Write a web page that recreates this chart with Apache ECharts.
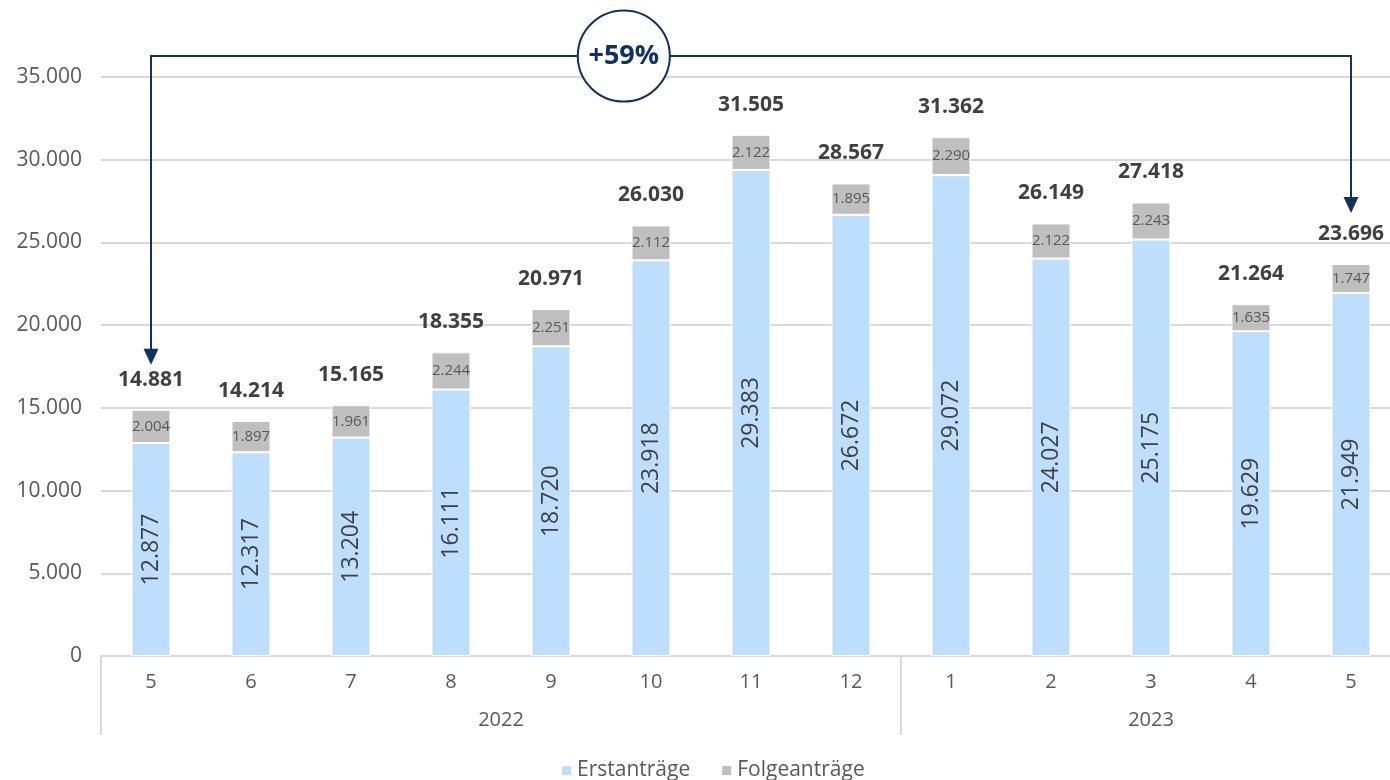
<!DOCTYPE html>
<html>
<head>
<meta charset="utf-8">
<script src="https://cdn.jsdelivr.net/npm/echarts@6/dist/echarts.min.js"></script>
<style>
  html, body { margin: 0; padding: 0; background: #fff; }
  #chart { width: 1390px; height: 780px; }
</style>
</head>
<body>
<div id="chart"></div>
<script>
// Monate (Mai 2022 bis Mai 2023)
const months = ["5", "6", "7", "8", "9", "10", "11", "12", "1", "2", "3", "4", "5"];
const years = ["2022", "2022", "2022", "2022", "2022", "2022", "2022", "2022", "2023", "2023", "2023", "2023", "2023"];
const erstantraege = [12877, 12317, 13204, 16111, 18720, 23918, 29383, 26672, 29072, 24027, 25175, 19629, 21949];
const folgeantraege = [2004, 1897, 1961, 2244, 2251, 2112, 2122, 1895, 2290, 2122, 2243, 1635, 1747];
const yTicks = [0, 5000, 10000, 15000, 20000, 25000, 30000, 35000];

const FONT = "Open Sans";
const NAVY = "#0f3262";

// Summe je Monat
const totals = erstantraege.map((v, i) => v + folgeantraege[i]);

// deutsches Zahlenformat 12.877
const fmt = (v) => String(v).replace(/\B(?=(\d{3})+(?!\d))/g, ".");

// Jahresgruppen: Grenzen und Mitte
const groupEdges = [0];
const groupCenters = [];
const groupNames = [];
let start = 0;
for (let i = 1; i <= years.length; i++) {
  if (i === years.length || years[i] !== years[start]) {
    groupEdges.push(i);
    groupCenters.push((start + i) / 2);
    groupNames.push(years[start]);
    start = i;
  }
}

const chart = echarts.init(document.getElementById("chart"));

const option = {
  animation: false,
  textStyle: { fontFamily: FONT },
  grid: { left: 101, top: 77, width: 1300, height: 579, outerBoundsMode: "none", containLabel: false },
  legend: {
    left: 555,
    top: 755,
    itemWidth: 11,
    itemHeight: 11,
    itemGap: 30,
    icon: "rect",
    data: ["Erstanträge", "Folgeanträge"],
    textStyle: { fontFamily: FONT, fontSize: 21, color: "#595959" },
  },
  xAxis: [
    {
      type: "category",
      data: months,
      position: "bottom",
      axisLine: { lineStyle: { color: "#d9d9d9", width: 2 } },
      axisTick: { show: false },
      axisLabel: { margin: 16, fontSize: 20, color: "#595959", fontFamily: FONT },
    },
    {
      // Jahresebene
      type: "value",
      min: 0,
      max: months.length,
      position: "bottom",
      splitLine: { show: false },
      axisLine: { show: false },
      axisTick: {
        show: true,
        customValues: groupEdges,
        length: 79,
        lineStyle: { color: "#d9d9d9", width: 2 },
      },
      axisLabel: {
        customValues: groupCenters,
        margin: 54,
        fontSize: 20,
        color: "#595959",
        fontFamily: FONT,
        formatter: (v) => groupNames[groupCenters.indexOf(v)] || "",
      },
    },
  ],
  yAxis: {
    type: "value",
    min: 0,
    max: 35000,
    interval: 5000,
    axisLine: { show: false },
    axisTick: { show: false },
    splitLine: { lineStyle: { color: "#d9d9d9", width: 2 } },
    axisLabel: {
      margin: 19,
      fontSize: 21,
      color: "#595959",
      fontFamily: FONT,
      formatter: (v) => fmt(v),
    },
  },
  series: [
    {
      name: "Erstanträge",
      type: "bar",
      stack: "gesamt",
      barWidth: 39,
      data: erstantraege,
      itemStyle: { color: "#bddefc", borderColor: "#fff", borderWidth: 1 },
      label: {
        show: true,
        position: "inside",
        rotate: 90,
        fontSize: 23,
        color: "#404040",
        fontFamily: FONT,
        formatter: (p) => fmt(p.value),
      },
    },
    {
      name: "Folgeanträge",
      type: "bar",
      stack: "gesamt",
      barWidth: 39,
      data: folgeantraege,
      itemStyle: { color: "#bfbfbf", borderColor: "#fff", borderWidth: 1 },
      label: {
        show: true,
        position: "inside",
        fontSize: 15,
        color: "#595959",
        fontFamily: FONT,
        formatter: (p) => fmt(p.value),
      },
    },
    {
      // Summen über den Säulen
      name: "Summe",
      type: "line",
      data: totals,
      symbol: "circle",
      symbolSize: 1,
      showSymbol: true,
      itemStyle: { color: "rgba(0,0,0,0)" },
      lineStyle: { opacity: 0 },
      silent: true,
      label: {
        show: true,
        position: "top",
        distance: 19,
        fontSize: 21,
        fontWeight: "bold",
        color: "#404040",
        fontFamily: FONT,
        formatter: (p) => fmt(p.value),
      },
    },
  ],
};

chart.setOption(option);

// Pfeil von erstem zu letztem Monat mit Veränderung in Prozent
const first = chart.convertToPixel({ gridIndex: 0 }, [0, totals[0]]);
const last = chart.convertToPixel({ gridIndex: 0 }, [totals.length - 1, totals[totals.length - 1]]);
const topY = chart.convertToPixel({ yAxisIndex: 0 }, 35000) - 21;
const tip1 = first[1] - 45;
const tip2 = last[1] - 51;
const change = Math.round((totals[totals.length - 1] / totals[0] - 1) * 100);
const cx = first[0] + (last[0] - first[0]) * 0.394;

const arrowHead = (x, y) => ({
  type: "polygon",
  shape: { points: [[x - 7.5, y - 16], [x + 7.5, y - 16], [x, y]] },
  style: { fill: NAVY },
  z: 20,
});

chart.setOption({
  graphic: [
    {
      type: "polyline",
      shape: { points: [[first[0], tip1 - 10], [first[0], topY], [last[0], topY], [last[0], tip2 - 10]] },
      style: { stroke: NAVY, lineWidth: 2, fill: null },
      z: 20,
    },
    arrowHead(first[0], tip1),
    arrowHead(last[0], tip2),
    {
      type: "ellipse",
      shape: { cx: cx, cy: topY, rx: 46, ry: 45.5 },
      style: { fill: "#fff", stroke: NAVY, lineWidth: 2 },
      z: 21,
    },
    {
      type: "text",
      x: cx,
      y: topY,
      style: {
        text: (change >= 0 ? "+" : "") + change + "%",
        fill: NAVY,
        font: "bold 27px '" + FONT + "'",
        align: "center",
        verticalAlign: "middle",
      },
      z: 22,
    },
  ],
});
</script>
</body>
</html>
